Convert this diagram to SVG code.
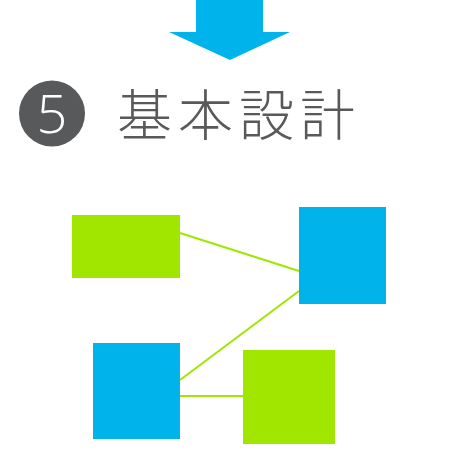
<svg xmlns="http://www.w3.org/2000/svg" width="460" height="460" viewBox="0 0 460 460">
<style>
.green{fill:#a0e600}
.blue{fill:#00b4eb}
.conn{stroke:#a0e600;stroke-width:2;fill:none}
</style>
<rect width="460" height="460" fill="#ffffff"/>
<g id="arrow">
<polygon class="blue" points="196,0 263,0 263,32 290,32 230,60 169,32 196,32"/>
</g>
<g id="title">
<circle cx="52" cy="113.5" r="33" fill="#58595b"/>
<text x="52" y="133" text-anchor="middle" font-family="'Open Sans','Noto Sans',sans-serif" font-weight="300" font-size="54" fill="#ffffff">5</text>
<text x="117" y="135" font-family="'Noto Sans CJK JP',sans-serif" font-weight="300" font-size="55" letter-spacing="6" fill="#595959">基本設計</text>
</g>
<g id="connectors">
<line class="conn" x1="180" y1="233" x2="299" y2="271"/>
<line class="conn" x1="299" y1="291" x2="180" y2="380"/>
<line class="conn" x1="180" y1="396" x2="243" y2="396"/>
</g>
<g id="node1"><rect class="green" x="72" y="215" width="108" height="63"/></g>
<g id="node2"><rect class="blue" x="299" y="207" width="87" height="97"/></g>
<g id="node3"><rect class="blue" x="93" y="343" width="87" height="96"/></g>
<g id="node4"><rect class="green" x="243" y="350" width="92" height="94"/></g>
</svg>
